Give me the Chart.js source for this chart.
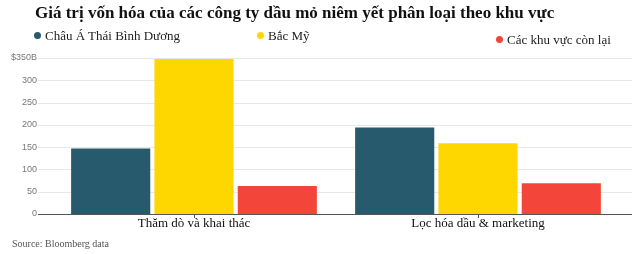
<!DOCTYPE html>
<html>
<head>
<meta charset="utf-8">
<script src="https://cdn.jsdelivr.net/npm/chart.js@4"></script>
<style>
  body { margin: 0; background: #fff; }
  #wrap { position: relative; width: 640px; height: 254px; overflow: hidden; }
  #title { position: absolute; left: 35px; top: 3px; font: bold 17px "Liberation Serif", serif; color: #111; white-space: nowrap; }
  .leg { position: absolute; font: 13px "Liberation Serif", serif; color: #222; white-space: nowrap; }
  .leg span { display: inline-block; width: 7px; height: 7px; border-radius: 50%; margin-right: 4px; vertical-align: 1px; }
  #source { position: absolute; left: 12px; top: 238px; font: 10px "Liberation Serif", serif; color: #555; }
  canvas { position: absolute; left: 0; top: 0; }
</style>
</head>
<body>
<div id="wrap">
  <canvas id="chart" width="640" height="254"></canvas>
  <div id="title">Giá trị vốn hóa của các công ty dầu mỏ niêm yết phân loại theo khu vực</div>
  <div id="legend"></div>
  <div id="source">Source: Bloomberg data</div>
</div>
<script>
const categories = ['Thăm dò và khai thác', 'Lọc hóa dầu & marketing'];
const seriesNames = ['Châu Á Thái Bình Dương', 'Bắc Mỹ', 'Các khu vực còn lại'];
const asiaPacific = [147, 194];
const northAmerica = [348, 159];
const restOfWorld = [63, 69];
const yTicks = [0, 50, 100, 150, 200, 250, 300, 350];
const colors = ['#275a6c', '#ffd700', '#f4453a'];
const legendX = [34, 257, 496];
const legendY = [28, 28, 32];

// legend in html, items spread like the original
const legend = document.getElementById('legend');
seriesNames.forEach((name, i) => {
  const d = document.createElement('div');
  d.className = 'leg';
  d.style.left = legendX[i] + 'px';
  d.style.top = legendY[i] + 'px';
  d.innerHTML = '<span style="background:' + colors[i] + '"></span>' + name;
  legend.appendChild(d);
});

// horizontal grid + baseline across the whole width
const gridPlugin = {
  id: 'wideGrid',
  beforeDatasetsDraw(chart) {
    const { ctx, scales: { y } } = chart;
    ctx.save();
    ctx.strokeStyle = '#e8e8e8';
    ctx.lineWidth = 1;
    yTicks.forEach(v => {
      if (v === 0) return;
      const py = Math.round(y.getPixelForValue(v)) + 0.5;
      ctx.beginPath();
      ctx.moveTo(38, py);
      ctx.lineTo(632, py);
      ctx.stroke();
    });
    ctx.restore();
  },
  afterDatasetsDraw(chart) {
    const { ctx, scales: { y } } = chart;
    const py = Math.round(y.getPixelForValue(0)) + 0.5;
    ctx.save();
    ctx.strokeStyle = '#555';
    ctx.lineWidth = 1;
    ctx.beginPath();
    ctx.moveTo(38, py);
    ctx.lineTo(632, py);
    ctx.stroke();
    ctx.restore();
  }
};

new Chart(document.getElementById('chart'), {
  type: 'bar',
  data: {
    labels: categories,
    datasets: [
      { label: seriesNames[0], data: asiaPacific, backgroundColor: colors[0] },
      { label: seriesNames[1], data: northAmerica, backgroundColor: colors[1] },
      { label: seriesNames[2], data: restOfWorld, backgroundColor: colors[2] }
    ]
  },
  options: {
    responsive: false,
    animation: false,
    devicePixelRatio: 1,
    categoryPercentage: 0.88,
    barPercentage: 0.95,
    layout: { padding: { top: 58, right: 20, bottom: 20, left: 0 } },
    scales: {
      x: {
        grid: { display: true, drawOnChartArea: false, offset: false, tickLength: 4, color: '#555' },
        border: { display: false },
        ticks: { color: '#111', padding: -2, font: { family: 'Liberation Serif', size: 13 } },
        afterFit(scale) { scale.height = 20; }
      },
      y: {
        min: 0,
        max: 350,
        grid: { display: false },
        border: { display: false },
        ticks: {
          stepSize: 50,
          padding: 7,
          color: '#777',
          font: { family: 'Liberation Sans', size: 9 },
          callback: v => v === 350 ? '$350B' : v
        },
        afterFit(scale) { scale.width = 52; }
      }
    },
    plugins: {
      legend: { display: false },
      tooltip: { enabled: false }
    }
  },
  plugins: [gridPlugin]
});
</script>
</body>
</html>
